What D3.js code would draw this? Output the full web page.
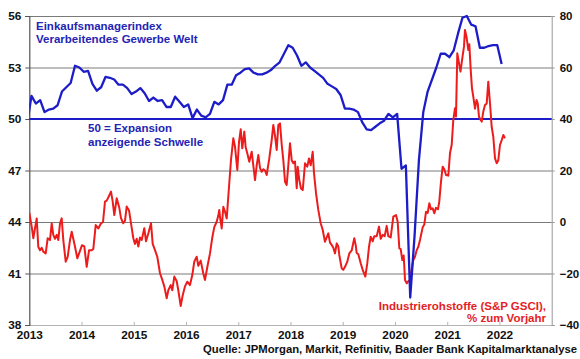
<!DOCTYPE html>
<html><head><meta charset="utf-8">
<script src="https://cdn.jsdelivr.net/npm/d3@7"></script>
<style>
body{margin:0;background:#fff}
svg{display:block}
text{font-family:"Liberation Sans",Arial,sans-serif;font-weight:bold}
</style>
</head><body>
<svg id="c" width="580" height="359"></svg>
<script>
// ---- data ----
const pmiFirstMonth = "2012-12"; // monthly series, first value = Dec 2012
const pmiValues = [
  49.7,
  51.35,50.9,51.1,50.4,50.55,50.6,50.8,51.6,51.85,52.1,53.1,53.0,
  52.75,52.8,52.05,51.65,51.85,52.45,52.4,52.3,52.0,52.0,51.8,51.45,
  51.6,51.8,51.5,51.05,51.25,51.05,51.1,50.7,50.7,51.3,51.0,50.7,
  50.85,50.05,50.55,50.2,50.1,50.3,51.0,50.85,51.1,52.0,52.0,52.55,
  52.7,52.9,52.95,52.7,52.6,52.6,52.7,52.85,53.1,53.3,53.8,54.3,
  54.15,53.7,53.1,53.3,53.0,52.8,52.6,52.4,52.05,51.9,51.75,51.4,
  50.6,50.6,50.55,50.4,49.8,49.4,49.35,49.55,49.75,49.9,50.3,50.1,
  50.3,47.1,47.3,39.6,43.2,47.6,50.4,51.6,52.3,53.0,53.8,53.8,
  53.6,54.0,55.0,55.9,56.0,55.5,55.4,54.15,54.15,54.25,54.3,54.3,
  53.2
];
// Industrial metals (S&P GSCI), % y/y  — time as decimal year
const gsciTime = [
  2013.000,2013.046,2013.077,2013.109,2013.142,2013.172,2013.205,2013.237,2013.268,2013.314,
  2013.352,2013.396,2013.429,2013.459,2013.492,2013.525,2013.555,2013.588,2013.620,2013.651,
  2013.697,2013.735,2013.779,2013.812,2013.842,2013.875,2013.919,2013.965,2014.009,2014.053,
  2014.099,2014.143,2014.195,2014.225,2014.271,2014.321,2014.373,2014.411,2014.449,2014.482,
  2014.512,2014.564,2014.596,2014.627,2014.673,2014.723,2014.755,2014.799,2014.832,2014.864,
  2014.909,2014.947,2014.991,2015.023,2015.056,2015.087,2015.119,2015.152,2015.201,2015.234,
  2015.278,2015.330,2015.362,2015.406,2015.450,2015.502,2015.546,2015.584,2015.630,2015.661,
  2015.707,2015.737,2015.776,2015.822,2015.852,2015.898,2015.936,2015.980,2016.024,2016.076,
  2016.120,2016.158,2016.204,2016.235,2016.281,2016.331,2016.363,2016.415,2016.459,2016.503,
  2016.541,2016.587,2016.618,2016.637,2016.650,2016.683,2016.714,2016.746,2016.779,2016.823,
  2016.861,2016.905,2016.938,2016.982,2017.014,2017.047,2017.077,2017.116,2017.142,2017.173,
  2017.211,2017.257,2017.288,2017.321,2017.353,2017.384,2017.416,2017.449,2017.479,2017.512,
  2017.544,2017.594,2017.640,2017.671,2017.703,2017.736,2017.767,2017.799,2017.832,2017.862,
  2017.895,2017.927,2017.958,2017.990,2018.023,2018.054,2018.086,2018.119,2018.138,2018.168,
  2018.201,2018.234,2018.278,2018.322,2018.354,2018.387,2018.425,2018.450,2018.489,2018.532,
  2018.578,2018.616,2018.660,2018.693,2018.724,2018.756,2018.789,2018.820,2018.852,2018.885,
  2018.915,2018.934,2018.980,2019.011,2019.043,2019.087,2019.126,2019.172,2019.221,2019.248,
  2019.267,2019.298,2019.344,2019.382,2019.432,2019.470,2019.503,2019.535,2019.574,2019.604,
  2019.650,2019.694,2019.727,2019.765,2019.803,2019.841,2019.872,2019.918,2019.968,2020.020,
  2020.052,2020.083,2020.110,2020.140,2020.167,2020.192,2020.225,2020.255,2020.288,2020.320,
  2020.351,2020.383,2020.416,2020.447,2020.479,2020.531,2020.561,2020.594,2020.626,2020.657,
  2020.689,2020.722,2020.753,2020.785,2020.824,2020.848,2020.881,2020.913,2020.944,2020.977,
  2021.021,2021.053,2021.086,2021.116,2021.149,2021.168,2021.193,2021.226,2021.254,2021.293,
  2021.321,2021.340,2021.369,2021.403,2021.423,2021.450,2021.474,2021.499,2021.532,2021.561,
  2021.584,2021.608,2021.641,2021.660,2021.690,2021.723,2021.756,2021.786,2021.819,2021.851,
  2021.882,2021.915,2021.947,2021.978,2022.010,2022.043,2022.074,2022.106
];
const gsciValues = [
  3.6,-1.8,-6.3,-2.5,1.4,-9.6,-11.0,-10.0,-11.5,-12.2,
  -6.3,-7.0,-0.5,-5.0,-6.5,-5.0,-7.0,-0.5,1.4,-7.0,
  -15.4,-13.5,-7.0,-3.8,-6.5,-9.6,-14.1,-11.5,-9.0,-9.5,
  -17.4,-11.0,-11.0,-10.5,-1.2,-2.5,-0.5,0.0,7.9,8.3,
  9.5,11.8,8.0,2.7,9.2,5.5,1.5,-0.5,0.5,6.0,
  4.5,-0.5,-6.3,-8.5,-6.5,-9.5,-6.0,-7.0,-2.4,-7.5,
  -4.5,-0.5,-8.5,-10.9,-13.5,-19.9,-22.5,-25.0,-29.6,-26.5,
  -24.5,-26.5,-21.2,-23.0,-26.5,-32.6,-28.5,-25.0,-23.2,-24.5,
  -20.6,-15.4,-13.5,-17.0,-15.0,-20.0,-22.5,-16.7,-12.2,-6.0,
  -2.0,0.1,2.5,4.7,2.0,-2.5,5.9,4.0,1.4,13.7,
  24.1,32.5,29.2,20.2,31.0,36.0,28.6,35.1,29.0,26.7,
  23.4,27.3,22.0,16.3,22.0,26.0,21.0,19.5,20.5,20.0,
  18.25,24.7,31.8,37.7,33.5,28.0,37.7,38.3,30.0,24.1,
  15.65,14.4,22.0,30.6,24.0,22.8,23.5,13.1,21.5,16.3,
  13.0,12.4,22.8,21.5,24.7,22.0,27.3,19.0,11.1,4.7,
  -0.5,-3.0,-7.65,-6.0,-4.4,-8.0,-8.9,-10.0,-12.2,-8.3,
  -9.5,-12.8,-18.0,-18.6,-17.4,-15.4,-12.2,-11.0,-6.3,-9.0,
  -12.0,-12.5,-16.0,-18.6,-21.2,-16.0,-9.6,-5.7,-7.5,-5.5,
  -5.5,-1.8,-6.5,-5.0,-5.5,-1.5,-5.5,-6.0,2.06,2.7,
  0.1,-10.2,-10.5,-14.8,-13.0,-22.5,-23.8,-23.0,-22.5,-18.0,
  -14.8,-13.5,-10.9,-9.6,-7.0,-2.0,-1.0,4.0,3.5,7.25,
  5.0,5.3,3.4,5.5,5.0,7.9,15.65,21.5,20.5,18.25,
  18.0,26.7,30.0,39.6,44.2,41.0,65.5,61.6,58.4,64.2,
  68.1,74.6,72.0,66.8,69.0,59.0,51.9,48.7,44.0,47.4,
  46.1,40.9,39.6,39.0,42.8,45.4,46.0,54.5,46.1,37.0,
  33.1,24.7,22.8,24.0,29.9,31.8,33.8,32.5
];
const leftTicks = [38,41,44,47,50,53,56];
const rightTicks = [-40,-20,0,20,40,60,80];
const yearTicks = [2013,2014,2015,2016,2017,2018,2019,2020,2021,2022];
const thresholdValue = 50;
const labelPmi = ["Einkaufsmanagerindex","Verarbeitendes Gewerbe Welt"];
const labelThreshold = ["50 = Expansion","anzeigende Schwelle"];
const labelGsci = ["Industrierohstoffe (S&P GSCI),","% zum Vorjahr"];
const sourceText = "Quelle: JPMorgan, Markit, Refinitiv, Baader Bank Kapitalmarktanalyse";

// ---- layout ----
const L = 29.3, R = 551.7, T = 16, B = 325;
const BLUE = "#1c1cc8", RED = "#ec1c1c", TXTBLUE = "#2424b4", TXTRED = "#e41e24";
const svg = d3.select("#c");

const x = d3.scaleLinear().domain([2013, 2023]).range([L, R]);
const yL = d3.scaleLinear().domain([38, 56]).range([B, T]);
const yR = d3.scaleLinear().domain([-40, 80]).range([B, T]);

svg.append("defs").append("clipPath").attr("id","clip")
  .append("rect").attr("x",L).attr("y",T-3).attr("width",R-L).attr("height",B-T+6);

// gridlines
const grid = svg.append("g").attr("transform",`translate(${L},0)`)
  .call(d3.axisLeft(yL).tickValues(leftTicks.filter(v=>v!==38 && v!==thresholdValue))
    .tickSize(-(R-L)).tickFormat(""));
grid.select(".domain").remove();
grid.selectAll("line").attr("stroke","#7a7a7a").attr("stroke-width",1);

// bottom axis
const xa = svg.append("g").attr("transform",`translate(0,${B})`)
  .call(d3.axisBottom(x).tickValues(yearTicks).tickSizeInner(-3).tickSizeOuter(0)
    .tickPadding(6).tickFormat(d3.format("d")));
xa.select(".domain").attr("stroke","#b4b4b4").attr("stroke-width",1.2);
xa.selectAll("line").attr("stroke","#b4b4b4");
xa.selectAll("text").attr("font-size",11.8).attr("fill","#111").attr("dy","0.71em");

// left axis
const la = svg.append("g").attr("transform",`translate(${L},0)`)
  .call(d3.axisLeft(yL).tickValues(leftTicks).tickSize(4).tickPadding(4).tickFormat(d3.format("d")));
la.select(".domain").attr("stroke","#555").attr("stroke-width",1.2);
la.selectAll("line").attr("stroke","#555");
la.selectAll("text").attr("font-size",11.8).attr("fill","#111");

// right axis
const ra = svg.append("g").attr("transform",`translate(${R},0)`)
  .call(d3.axisRight(yR).tickValues(rightTicks).tickSize(3).tickPadding(5).tickFormat(d3.format("d")));
ra.select(".domain").attr("stroke","#999").attr("stroke-width",1);
ra.selectAll("line").attr("stroke","#999");
ra.selectAll("text").attr("font-size",11.5).attr("fill","#111");

// threshold line
svg.append("line").attr("x1",L).attr("x2",R)
  .attr("y1",yL(thresholdValue)).attr("y2",yL(thresholdValue))
  .attr("stroke",BLUE).attr("stroke-width",2);

// red series (right axis)
const gsci = gsciTime.map((t,i)=>({t, v:gsciValues[i]}));
svg.append("path").datum(gsci).attr("clip-path","url(#clip)")
  .attr("fill","none").attr("stroke",RED).attr("stroke-width",2).attr("stroke-linejoin","round")
  .attr("d", d3.line().x(d=>x(d.t)).y(d=>yR(d.v)));

// blue series (left axis), monthly points plotted mid-month
const [py, pm] = pmiFirstMonth.split("-").map(Number);
const pmi = pmiValues.map((v,i)=>({t: py + (pm - 1 + i + 0.5)/12, v}));
svg.append("path").datum(pmi).attr("clip-path","url(#clip)")
  .attr("fill","none").attr("stroke",BLUE).attr("stroke-width",2.3).attr("stroke-linejoin","round")
  .attr("d", d3.line().x(d=>x(d.t)).y(d=>yL(d.v)));

// annotations
function block(lines, xx, y0, dy, anchor, color){
  const t = svg.append("text").attr("font-size",11.5).attr("fill",color).attr("text-anchor",anchor);
  lines.forEach((s,i)=>t.append("tspan").attr("x",xx).attr("y",y0+i*dy).text(s));
}
block(labelPmi, 36, 30, 13.3, "start", TXTBLUE);
block(labelThreshold, 88, 132, 13.5, "start", TXTBLUE);
block(labelGsci, 546, 310, 12, "end", TXTRED);

svg.append("text").attr("x",577).attr("y",353).attr("text-anchor","end")
  .attr("font-size",11.3).attr("fill","#111").text(sourceText);
</script>
</body></html>
